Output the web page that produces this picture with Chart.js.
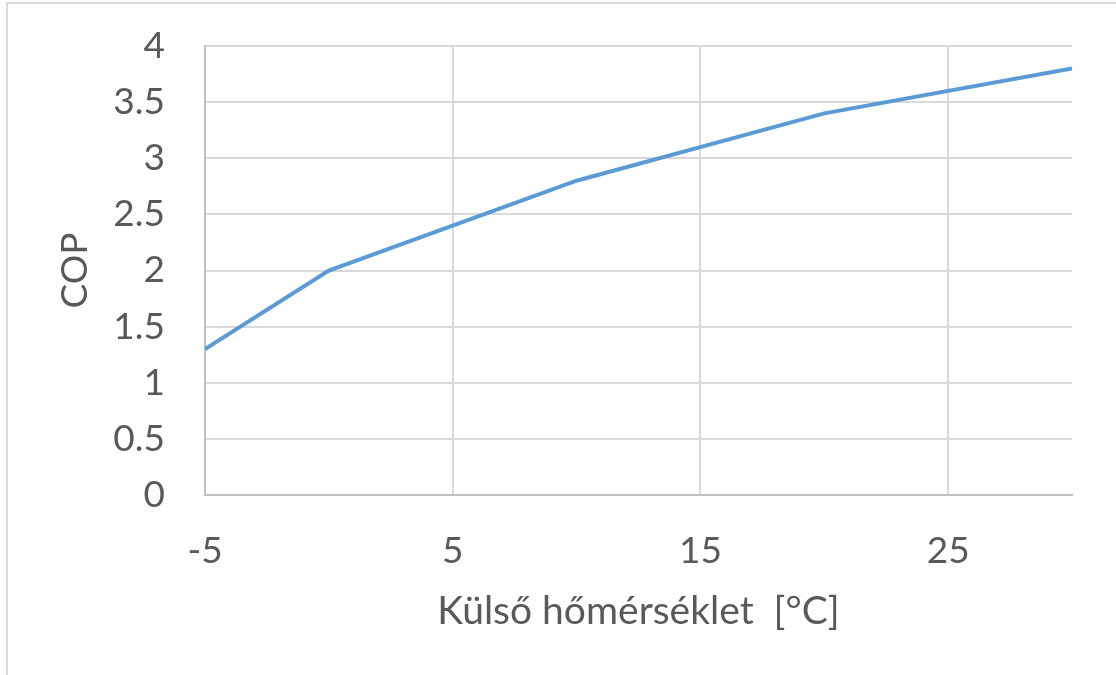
<!DOCTYPE html>
<html>
<head>
<meta charset="utf-8">
<script src="https://cdn.jsdelivr.net/npm/chart.js@4"></script>
<style>
  html, body { margin: 0; padding: 0; background: #fff; overflow: hidden; }
  #frame {
    position: absolute; left: 6px; top: 2px; width: 1300px; height: 900px;
    border-top: 2px solid #d9d9d9; border-left: 2px solid #d9d9d9;
  }
  #wrap { position: absolute; left: 0; top: 0; width: 1116px; height: 675px; }
</style>
</head>
<body>
<div id="frame"></div>
<div id="wrap"><canvas id="chart"></canvas></div>
<script>
// COP a külső hőmérséklet függvényében
const homerseklet = [-5, 0, 10, 20, 30];
const copErtekek = [1.3, 2.0, 2.8, 3.4, 3.8];
const xTickek = [-5, 5, 15, 25];

const betu = { family: 'Lato', size: 37 };
const szurke = '#595959';

new Chart(document.getElementById('chart'), {
    type: 'scatter',
    data: {
        datasets: [{
            label: 'COP',
            data: homerseklet.map((t, i) => ({ x: t, y: copErtekek[i] })),
            showLine: true,
            borderColor: '#5b9bd5',
            borderWidth: 4,
            pointRadius: 0,
            tension: 0
        }]
    },
    options: {
        responsive: true,
        maintainAspectRatio: false,
        animation: false,
        layout: { padding: { top: 46, right: 44, bottom: 0, left: 0 } },
        plugins: { legend: { display: false }, tooltip: { enabled: false } },
        scales: {
            x: {
                type: 'linear',
                min: -5,
                max: 30,
                afterBuildTicks: scale => { scale.ticks = xTickek.map(v => ({ value: v })); },
                afterFit: scale => {
                    scale.height = 180;
                    scale.paddingLeft = 0;
                    scale.paddingRight = 0;
                },
                ticks: { font: betu, color: szurke, padding: 34, maxRotation: 0 },
                grid: { color: '#d9d9d9', lineWidth: 2, drawTicks: false },
                border: { color: '#bfbfbf', width: 2 },
                title: {
                    display: true,
                    text: 'Külső hőmérséklet  [°C]',
                    font: { family: 'Lato', size: 39 },
                    color: szurke,
                    padding: { top: 0, bottom: 40 }
                }
            },
            y: {
                min: 0,
                max: 4,
                afterFit: scale => {
                    scale.width = 205;
                    scale.paddingTop = 0;
                    scale.paddingBottom = 0;
                },
                ticks: {
                    stepSize: 0.5,
                    font: betu,
                    color: szurke,
                    padding: 40,
                    callback: v => String(v)
                },
                grid: { color: '#d9d9d9', lineWidth: 2, drawTicks: false },
                border: { color: '#bfbfbf', width: 2 },
                title: {
                    display: true,
                    text: 'COP',
                    font: betu,
                    color: szurke,
                    padding: { top: 53, bottom: 0 }
                }
            }
        }
    }
});
</script>
</body>
</html>
